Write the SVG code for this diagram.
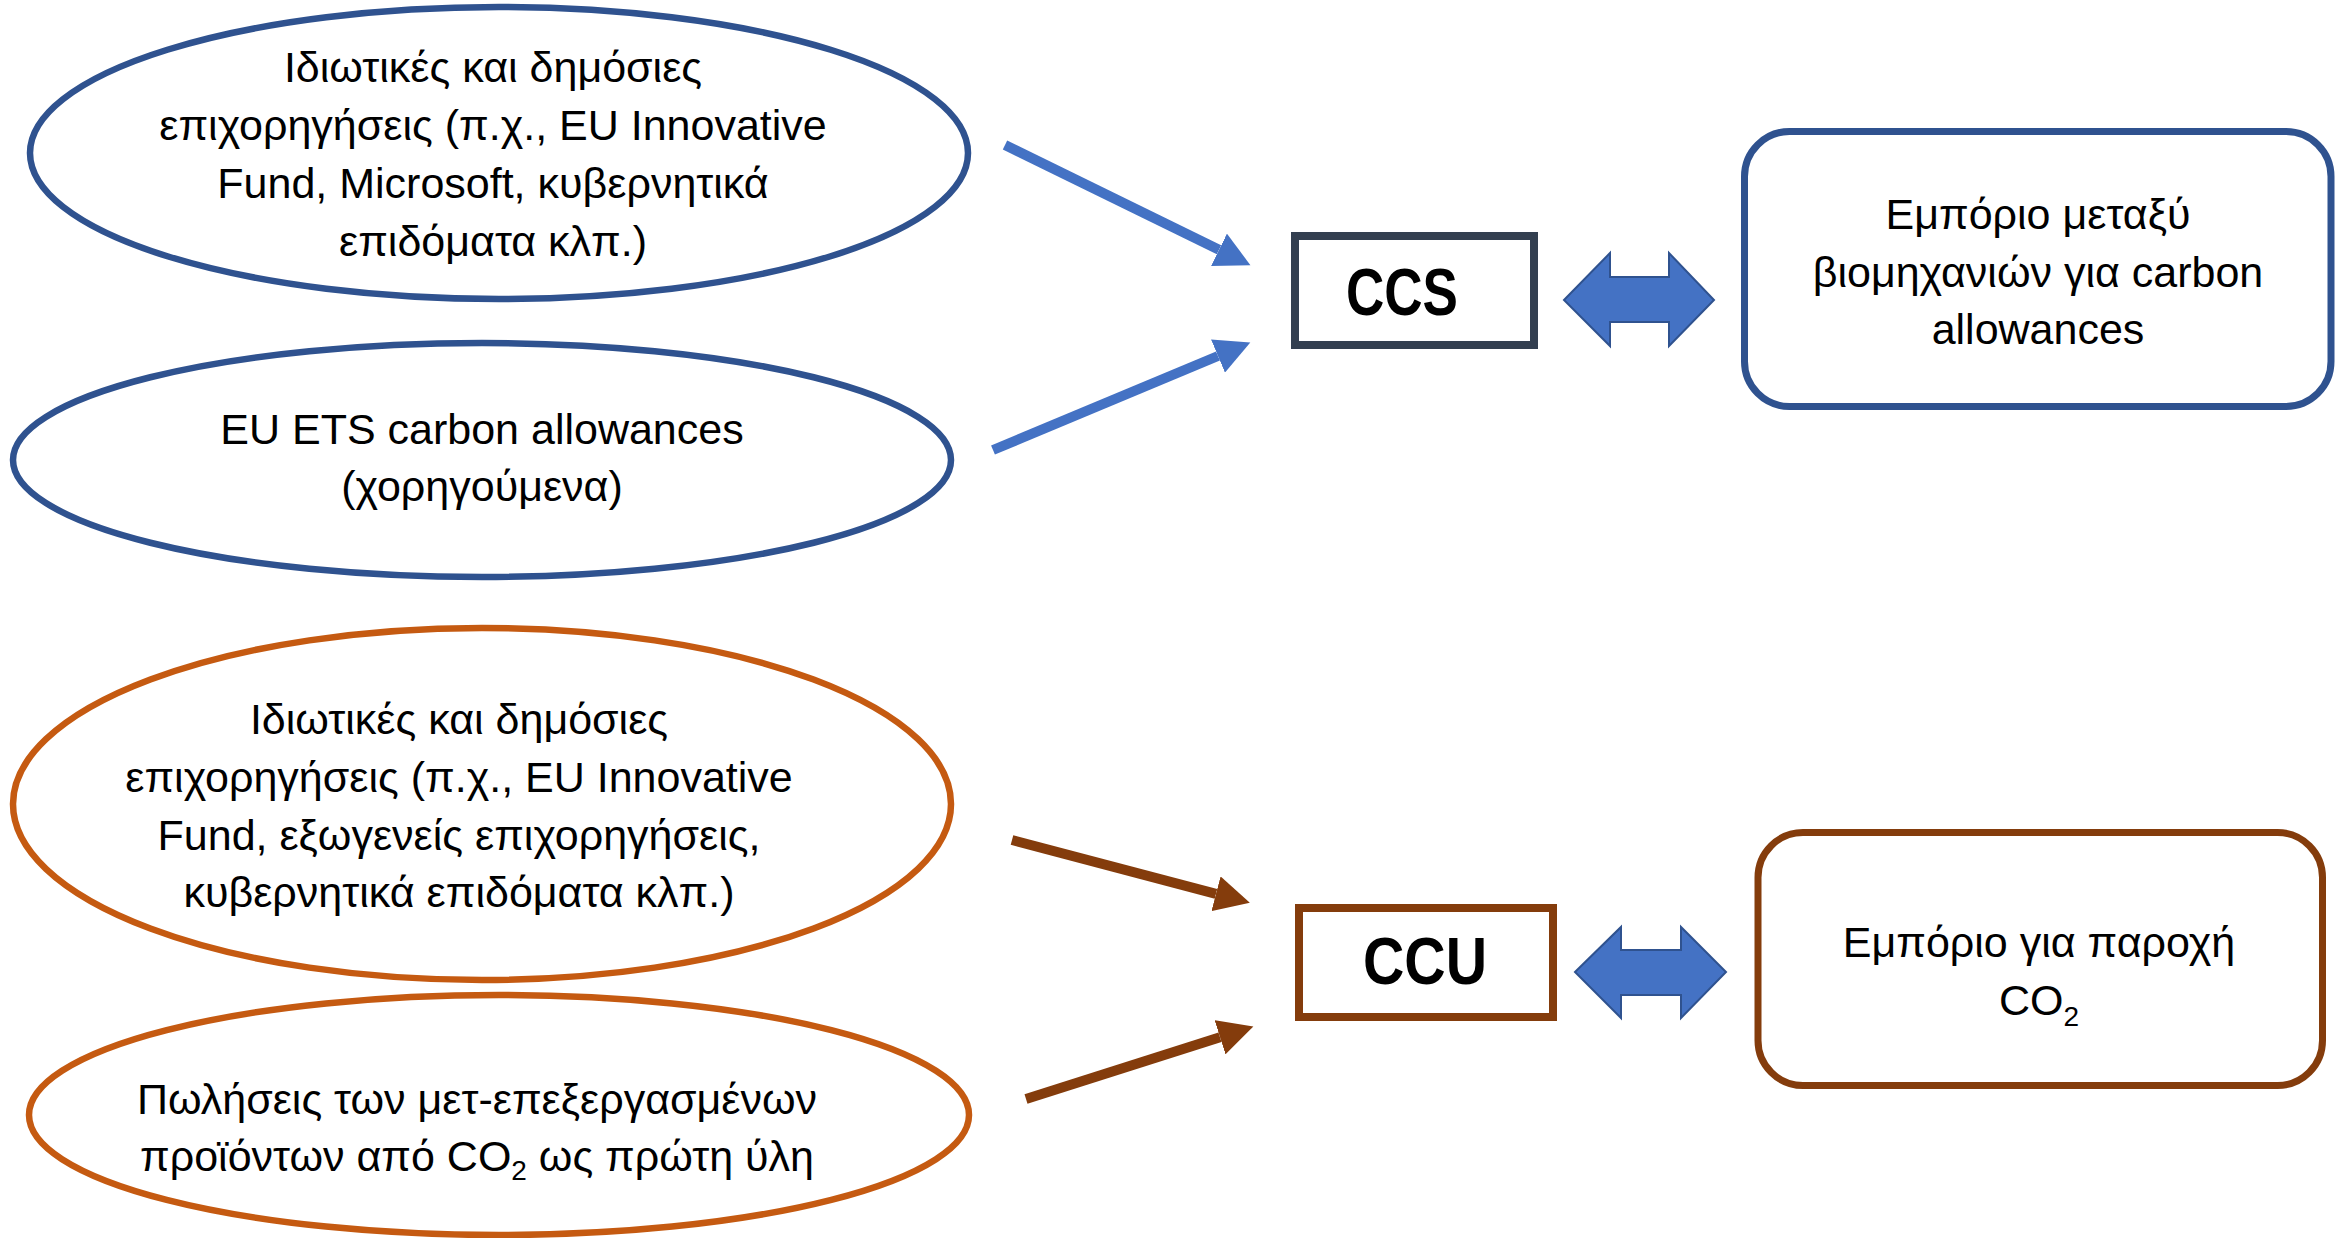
<svg xmlns="http://www.w3.org/2000/svg" width="2344" height="1238" viewBox="0 0 2344 1238">
<defs>
<style>
.t{font-family:"Liberation Sans",Arial,sans-serif;font-size:43px;fill:#000;text-anchor:middle}
.b{font-family:"Liberation Sans",Arial,sans-serif;font-size:66px;font-weight:bold;fill:#000;text-anchor:middle}
.eb{fill:#fff;stroke:#2F528F;stroke-width:6.5}
.eo{fill:#fff;stroke:#C55A11;stroke-width:6.5}
.ab{stroke:#4472C4;stroke-width:10;fill:none}
.ar{stroke:#843C0C;stroke-width:10;fill:none}
.dbl{fill:#4472C4;stroke:#2F528F;stroke-width:2}
</style>
<marker id="hb" markerUnits="userSpaceOnUse" markerWidth="36" markerHeight="36" refX="0" refY="18" orient="auto" viewBox="0 0 36 36"><path d="M0,0 L35,18 L0,36 z" fill="#4472C4"/></marker>
<marker id="hr" markerUnits="userSpaceOnUse" markerWidth="36" markerHeight="36" refX="0" refY="18" orient="auto" viewBox="0 0 36 36"><path d="M0,0 L35,18 L0,36 z" fill="#843C0C"/></marker>
</defs>
<rect width="2344" height="1238" fill="#fff"/>

<g id="connectors">
<line class="ab" x1="1005" y1="145" x2="1219" y2="249.8" marker-end="url(#hb)"/>
<line class="ab" x1="993" y1="450" x2="1218" y2="356" marker-end="url(#hb)"/>
<line class="ar" x1="1012" y1="840" x2="1216" y2="893.8" marker-end="url(#hr)"/>
<line class="ar" x1="1026" y1="1099" x2="1220" y2="1037.2" marker-end="url(#hr)"/>
<polygon id="ccs-trade" class="dbl" points="1564,300 1610,253 1610,277 1669,277 1669,253 1714,300 1669,346 1669,322 1610,322 1610,346"/>
<polygon id="ccu-trade" class="dbl" points="1575,972 1621,927 1621,950 1681,950 1681,927 1726,972 1681,1018 1681,995 1621,995 1621,1018"/>
</g>

<g id="n-grants-ccs">
<ellipse class="eb" cx="499" cy="153" rx="469" ry="146"/>
<text class="t" x="493" y="82">Ιδιωτικές και δημόσιες</text>
<text class="t" x="493" y="140">επιχορηγήσεις (π.χ., EU Innovative</text>
<text class="t" x="493" y="198">Fund, Microsoft, κυβερνητικά</text>
<text class="t" x="493" y="256">επιδόματα κλπ.)</text>
</g>

<g id="n-ets">
<ellipse class="eb" cx="482" cy="460" rx="469" ry="117"/>
<text class="t" x="482" y="444">EU ETS carbon allowances</text>
<text class="t" x="482" y="501">(χορηγούμενα)</text>
</g>

<g id="n-grants-ccu">
<ellipse class="eo" cx="482" cy="804" rx="469" ry="176"/>
<text class="t" x="459" y="734">Ιδιωτικές και δημόσιες</text>
<text class="t" x="459" y="792">επιχορηγήσεις (π.χ., EU Innovative</text>
<text class="t" x="459" y="850">Fund, εξωγενείς επιχορηγήσεις,</text>
<text class="t" x="459" y="907">κυβερνητικά επιδόματα κλπ.)</text>
</g>

<g id="n-sales">
<ellipse class="eo" cx="499" cy="1115" rx="470" ry="120"/>
<text class="t" x="477" y="1114">Πωλήσεις των μετ-επεξεργασμένων</text>
<text class="t" x="477" y="1171">προϊόντων από CO<tspan font-size="28" dy="9">2</tspan><tspan dy="-9"> ως πρώτη ύλη</tspan></text>
</g>

<g id="n-ccs">
<rect x="1295" y="236" width="239" height="109" fill="#fff" stroke="#333F50" stroke-width="8"/>
<text class="b" x="1402" y="315" textLength="112" lengthAdjust="spacingAndGlyphs">CCS</text>
</g>

<g id="n-ccu">
<rect x="1299" y="908" width="254" height="109" fill="#fff" stroke="#843C0C" stroke-width="8"/>
<text class="b" x="1425" y="984" textLength="124" lengthAdjust="spacingAndGlyphs">CCU</text>
</g>

<g id="n-trade-ccs">
<rect x="1744.5" y="131.5" width="586.5" height="275" rx="45" fill="#fff" stroke="#2F528F" stroke-width="7"/>
<text class="t" x="2038" y="229">Εμπόριο μεταξύ</text>
<text class="t" x="2038" y="286.5">βιομηχανιών για carbon</text>
<text class="t" x="2038" y="344">allowances</text>
</g>

<g id="n-trade-ccu">
<rect x="1758" y="832.5" width="564.5" height="253" rx="45" fill="#fff" stroke="#843C0C" stroke-width="7"/>
<text class="t" x="2039" y="957">Εμπόριο για παροχή</text>
<text class="t" x="2039" y="1015">CO<tspan font-size="28" dy="11">2</tspan></text>
</g>
</svg>
